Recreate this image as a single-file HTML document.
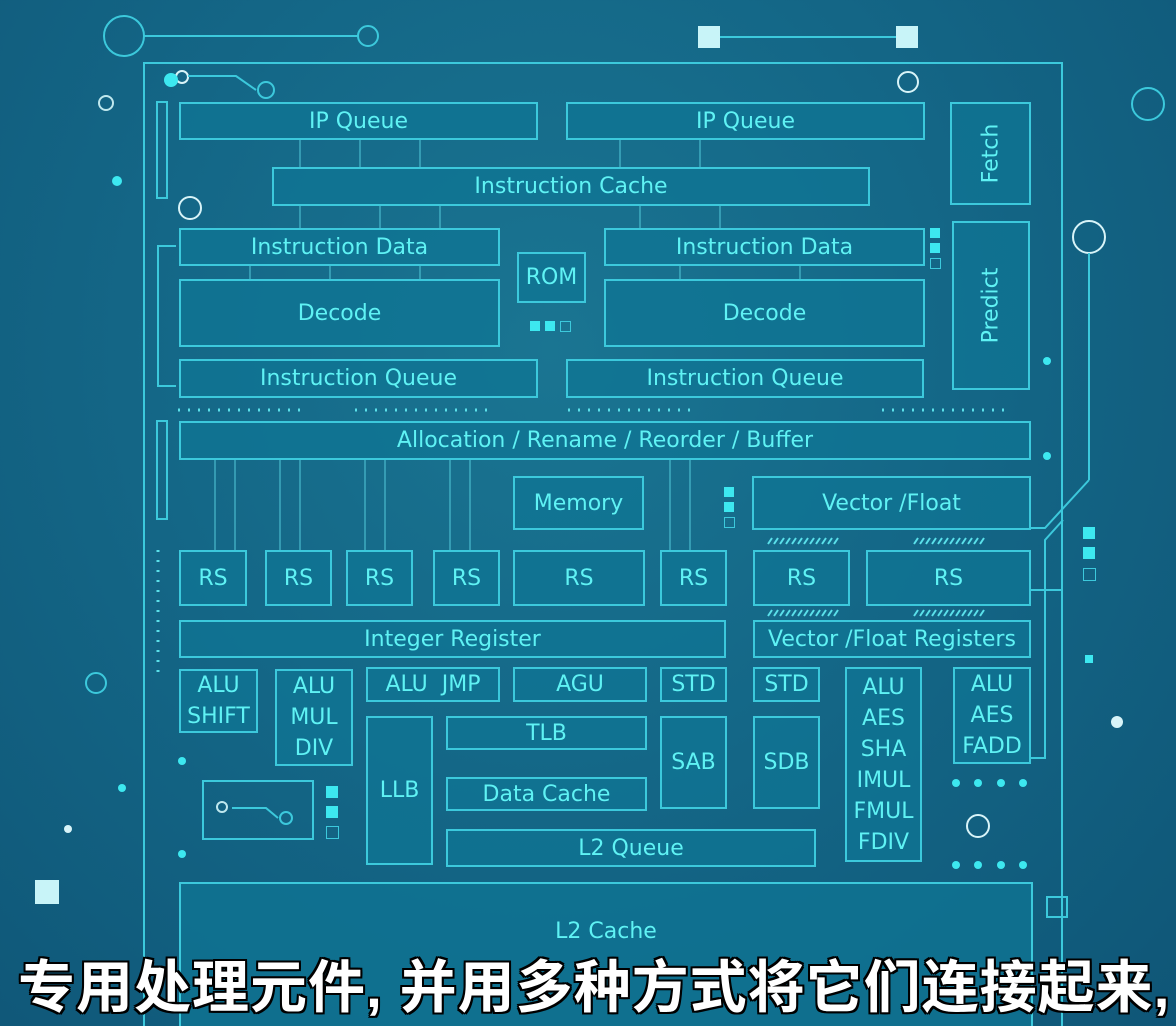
<!DOCTYPE html>
<html><head><meta charset="utf-8"><style>
html,body{margin:0;padding:0;width:1176px;height:1026px;overflow:hidden}
body{position:relative;
background:radial-gradient(ellipse at 550px 350px,#1a7592 0%,#146787 45%,#0f5677 100%);
font-family:"DejaVu Sans","Liberation Sans",sans-serif;}
.b{position:absolute;box-sizing:border-box;border:2px solid #3cc9dc;background:rgba(15,118,148,0.75);
color:#5ff2f4;display:flex;align-items:center;justify-content:center;text-align:center;font-size:22px;line-height:31px}
.v span{transform:rotate(-90deg);white-space:nowrap;display:block}
.frame{position:absolute;left:143px;top:62px;width:920px;height:990px;border:2px solid #3cc9dc;box-sizing:border-box}
.sub{position:absolute;left:18px;top:942px;font-family:"Liberation Sans","Noto Sans CJK SC",sans-serif;font-size:57px;font-weight:bold;color:#fff;white-space:nowrap;
text-shadow:2px 2px 0 #000,-2px -2px 0 #000,2px -2px 0 #000,-2px 2px 0 #000,0 2px 0 #000,0 -2px 0 #000,2px 0 0 #000,-2px 0 0 #000;letter-spacing:1px}
.sq{position:absolute;background:#3de8f0;width:10px;height:10px}
.sqo{position:absolute;border:1px solid #3cc9dc;width:9px;height:9px}
.dot{position:absolute;width:8px;height:8px;border-radius:50%;background:#3de8f0}
</style></head><body>
<svg width="1176" height="1026" style="position:absolute;left:0;top:0" fill="none" stroke="#3cc9dc" stroke-width="2">
<circle cx="124" cy="36" r="20"/><line x1="144" y1="36" x2="358" y2="36"/><circle cx="368" cy="36" r="10"/>
<rect x="698" y="26" width="22" height="22" fill="#c8f4f8" stroke="none"/><rect x="896" y="26" width="22" height="22" fill="#c8f4f8" stroke="none"/><line x1="720" y1="37" x2="896" y2="37"/>
<circle cx="1148" cy="104" r="16"/><circle cx="908" cy="82" r="10" stroke="#d8f4f8"/>
<circle cx="1089" cy="237" r="16" stroke="#d8f4f8"/><line x1="1089" y1="253" x2="1089" y2="480"/><polyline points="1089,480 1045,528 1031,528"/>
<circle cx="106" cy="103" r="7" stroke="#bfe8ee"/><circle cx="190" cy="208" r="11" stroke="#d8f4f8"/>
<circle cx="96" cy="683" r="10"/><circle cx="182" cy="77" r="6" stroke="#d8f4f8"/><circle cx="266" cy="90" r="8"/>
<polyline points="188,76 236,76 256,90"/>
<rect x="157" y="102" width="10" height="96"/><polyline points="176,246 158,246 158,386 176,386"/>
<rect x="157" y="421" width="10" height="98"/>
<polyline points="1031,590 1063,590"/><polyline points="1031,758 1045,758 1045,540 1063,520"/>
<circle cx="978" cy="826" r="11" stroke="#d8f4f8"/>
<rect x="203" y="781" width="110" height="58"/><circle cx="222" cy="807" r="5" stroke="#bfe8ee"/><circle cx="286" cy="818" r="6"/><polyline points="232,808 266,808 278,818"/>
<rect x="1047" y="897" width="20" height="20"/>
<g stroke="#5ad6e4" stroke-width="1.5" opacity=".6">
<line x1="215" y1="460" x2="215" y2="550"/><line x1="235" y1="460" x2="235" y2="550"/><line x1="280" y1="460" x2="280" y2="550"/><line x1="300" y1="460" x2="300" y2="550"/><line x1="365" y1="460" x2="365" y2="550"/><line x1="385" y1="460" x2="385" y2="550"/><line x1="450" y1="460" x2="450" y2="550"/><line x1="470" y1="460" x2="470" y2="550"/><line x1="670" y1="460" x2="670" y2="550"/><line x1="690" y1="460" x2="690" y2="550"/>
<line x1="300" y1="140" x2="300" y2="167"/><line x1="360" y1="140" x2="360" y2="167"/><line x1="420" y1="140" x2="420" y2="167"/><line x1="620" y1="140" x2="620" y2="167"/><line x1="700" y1="140" x2="700" y2="167"/>
<line x1="300" y1="206" x2="300" y2="228"/><line x1="380" y1="206" x2="380" y2="228"/><line x1="440" y1="206" x2="440" y2="228"/><line x1="640" y1="206" x2="640" y2="228"/><line x1="720" y1="206" x2="720" y2="228"/>
<line x1="250" y1="266" x2="250" y2="279"/><line x1="330" y1="266" x2="330" y2="279"/><line x1="420" y1="266" x2="420" y2="279"/><line x1="680" y1="266" x2="680" y2="279"/><line x1="800" y1="266" x2="800" y2="279"/>
</g>
<g stroke="#5ae0ea" stroke-width="3" stroke-dasharray="2 8">
<line x1="178" y1="410" x2="300" y2="410"/><line x1="355" y1="410" x2="490" y2="410"/><line x1="568" y1="410" x2="695" y2="410"/><line x1="882" y1="410" x2="1010" y2="410"/>
<line x1="158" y1="550" x2="158" y2="680"/>
</g>
<g stroke="#5ae0ea" stroke-width="2">
<path d="M768 544l4-6M774 544l4-6M780 544l4-6M786 544l4-6M792 544l4-6M798 544l4-6M804 544l4-6M810 544l4-6M816 544l4-6M822 544l4-6M828 544l4-6M834 544l4-6"/>
<path d="M914 544l4-6M920 544l4-6M926 544l4-6M932 544l4-6M938 544l4-6M944 544l4-6M950 544l4-6M956 544l4-6M962 544l4-6M968 544l4-6M974 544l4-6M980 544l4-6"/>
<path d="M768 616l4-6M774 616l4-6M780 616l4-6M786 616l4-6M792 616l4-6M798 616l4-6M804 616l4-6M810 616l4-6M816 616l4-6M822 616l4-6M828 616l4-6M834 616l4-6"/>
<path d="M914 616l4-6M920 616l4-6M926 616l4-6M932 616l4-6M938 616l4-6M944 616l4-6M950 616l4-6M956 616l4-6M962 616l4-6M968 616l4-6M974 616l4-6M980 616l4-6"/>
</g>
</svg>
<div class="frame"></div>
<div class="b" style="left:179px;top:102px;width:359px;height:38px">IP Queue</div>
<div class="b" style="left:566px;top:102px;width:359px;height:38px">IP Queue</div>
<div class="b v" style="left:950px;top:102px;width:81px;height:103px"><span>Fetch</span></div>
<div class="b" style="left:272px;top:167px;width:598px;height:39px">Instruction Cache</div>
<div class="b" style="left:179px;top:228px;width:321px;height:38px">Instruction Data</div>
<div class="b" style="left:604px;top:228px;width:321px;height:38px">Instruction Data</div>
<div class="b" style="left:517px;top:252px;width:69px;height:51px">ROM</div>
<div class="b" style="left:179px;top:279px;width:321px;height:68px">Decode</div>
<div class="b" style="left:604px;top:279px;width:321px;height:68px">Decode</div>
<div class="b v" style="left:952px;top:221px;width:78px;height:169px"><span>Predict</span></div>
<div class="b" style="left:179px;top:359px;width:359px;height:39px">Instruction Queue</div>
<div class="b" style="left:566px;top:359px;width:358px;height:39px">Instruction Queue</div>
<div class="b" style="left:179px;top:421px;width:852px;height:39px">Allocation / Rename / Reorder / Buffer</div>
<div class="b" style="left:513px;top:476px;width:131px;height:54px">Memory</div>
<div class="b" style="left:752px;top:476px;width:279px;height:54px">Vector /Float</div>
<div class="b" style="left:179px;top:550px;width:68px;height:56px">RS</div>
<div class="b" style="left:265px;top:550px;width:67px;height:56px">RS</div>
<div class="b" style="left:346px;top:550px;width:67px;height:56px">RS</div>
<div class="b" style="left:433px;top:550px;width:67px;height:56px">RS</div>
<div class="b" style="left:513px;top:550px;width:132px;height:56px">RS</div>
<div class="b" style="left:660px;top:550px;width:67px;height:56px">RS</div>
<div class="b" style="left:753px;top:550px;width:97px;height:56px">RS</div>
<div class="b" style="left:866px;top:550px;width:165px;height:56px">RS</div>
<div class="b" style="left:179px;top:620px;width:547px;height:38px">Integer Register</div>
<div class="b" style="left:753px;top:620px;width:278px;height:38px">Vector /Float Registers</div>
<div class="b" style="left:179px;top:669px;width:79px;height:64px">ALU<br>SHIFT</div>
<div class="b" style="left:275px;top:669px;width:78px;height:97px">ALU<br>MUL<br>DIV</div>
<div class="b" style="left:366px;top:667px;width:134px;height:35px">ALU&nbsp; JMP</div>
<div class="b" style="left:513px;top:667px;width:134px;height:35px">AGU</div>
<div class="b" style="left:660px;top:667px;width:67px;height:35px">STD</div>
<div class="b" style="left:753px;top:667px;width:67px;height:35px">STD</div>
<div class="b" style="left:845px;top:667px;width:77px;height:195px">ALU<br>AES<br>SHA<br>IMUL<br>FMUL<br>FDIV</div>
<div class="b" style="left:953px;top:667px;width:78px;height:97px">ALU<br>AES<br>FADD</div>
<div class="b" style="left:366px;top:716px;width:67px;height:149px">LLB</div>
<div class="b" style="left:446px;top:716px;width:201px;height:34px">TLB</div>
<div class="b" style="left:660px;top:716px;width:67px;height:93px">SAB</div>
<div class="b" style="left:753px;top:716px;width:67px;height:93px">SDB</div>
<div class="b" style="left:446px;top:777px;width:201px;height:34px">Data Cache</div>
<div class="b" style="left:446px;top:829px;width:370px;height:38px">L2 Queue</div>
<div class="b" style="left:179px;top:882px;width:854px;height:160px;align-items:flex-start;padding-top:32px">L2 Cache</div>
<div class="sq" style="left:530px;top:321px"></div><div class="sq" style="left:545px;top:321px"></div><div class="sqo" style="left:560px;top:321px"></div>
<div class="sq" style="left:724px;top:487px"></div><div class="sq" style="left:724px;top:502px"></div><div class="sqo" style="left:724px;top:517px"></div>
<div class="sq" style="left:326px;top:786px;width:12px;height:12px"></div><div class="sq" style="left:326px;top:806px;width:12px;height:12px"></div><div class="sqo" style="left:326px;top:826px;width:11px;height:11px"></div>
<div class="sq" style="left:1083px;top:527px;width:12px;height:12px"></div><div class="sq" style="left:1083px;top:547px;width:12px;height:12px"></div><div class="sqo" style="left:1083px;top:568px;width:11px;height:11px"></div><div class="sq" style="left:1085px;top:655px;width:8px;height:8px"></div>
<div class="sq" style="left:930px;top:228px"></div><div class="sq" style="left:930px;top:243px"></div><div class="sqo" style="left:930px;top:258px"></div>
<div class="sq" style="left:35px;top:880px;width:24px;height:24px;background:#c8f4f8"></div>
<div class="dot" style="left:112px;top:176px;width:10px;height:10px"></div>
<div class="dot" style="left:164px;top:73px;width:14px;height:14px"></div>
<div class="dot" style="left:1043px;top:357px"></div><div class="dot" style="left:1043px;top:452px"></div>
<div class="dot" style="left:178px;top:757px"></div><div class="dot" style="left:178px;top:850px"></div><div class="dot" style="left:118px;top:784px"></div>
<div class="dot" style="left:64px;top:825px;background:#d8f4f8"></div><div class="dot" style="left:1111px;top:716px;width:12px;height:12px;background:#d8f4f8"></div>
<div class="dot" style="left:952px;top:779px"></div><div class="dot" style="left:974px;top:779px"></div><div class="dot" style="left:997px;top:779px"></div><div class="dot" style="left:1019px;top:779px"></div>
<div class="dot" style="left:952px;top:861px"></div><div class="dot" style="left:974px;top:861px"></div><div class="dot" style="left:997px;top:861px"></div><div class="dot" style="left:1019px;top:861px"></div>
<div class="sub">专用处理元件, 并用多种方式将它们连接起来,</div>
</body></html>
